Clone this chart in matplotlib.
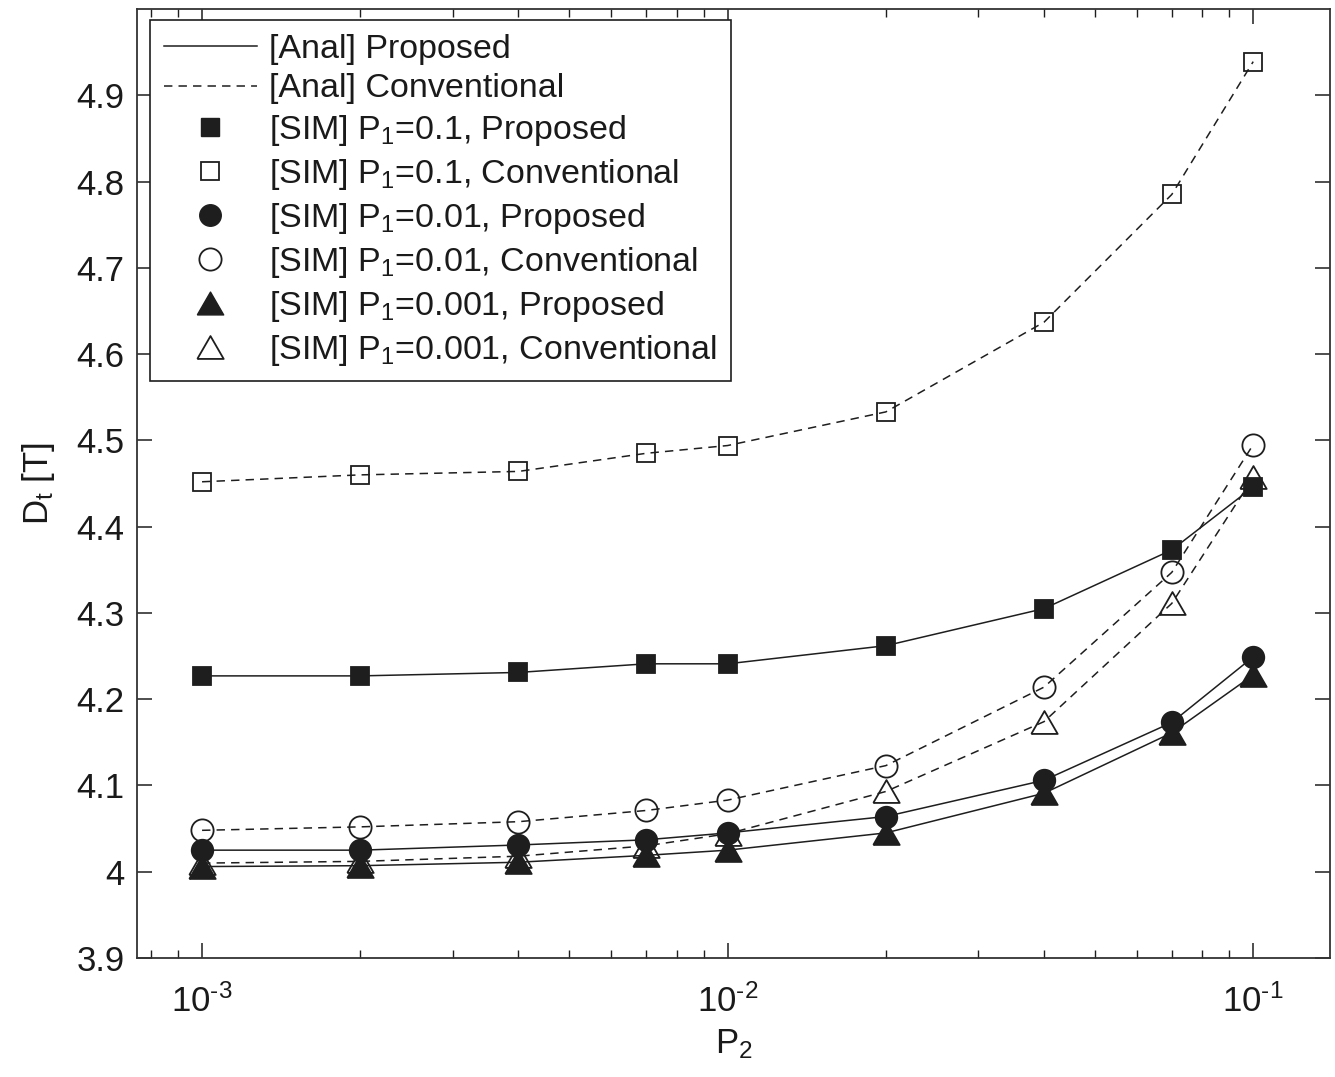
import numpy as np
import matplotlib
matplotlib.use("Agg")
import matplotlib.pyplot as plt
from matplotlib.lines import Line2D
from matplotlib.ticker import LogLocator, FixedLocator, FuncFormatter

plt.rcParams['font.family'] = ['Liberation Sans', 'DejaVu Sans']
plt.rcParams['mathtext.fontset'] = 'custom'
plt.rcParams['mathtext.rm'] = 'Liberation Sans'
plt.rcParams['mathtext.it'] = 'Liberation Sans'
plt.rcParams['mathtext.default'] = 'regular'

# ---- data ----
p2 = [0.001, 0.002, 0.004, 0.007, 0.01, 0.02, 0.04, 0.07, 0.1]

conv_p1_01 = [4.452, 4.460, 4.464, 4.485, 4.494, 4.533, 4.637, 4.785, 4.939]
prop_p1_01 = [4.227, 4.227, 4.231, 4.241, 4.241, 4.262, 4.305, 4.373, 4.446]
conv_p1_001 = [4.048, 4.052, 4.058, 4.071, 4.083, 4.123, 4.214, 4.347, 4.495]
prop_p1_001 = [4.025, 4.025, 4.031, 4.037, 4.045, 4.064, 4.106, 4.173, 4.249]
conv_p1_0001 = [4.010, 4.012, 4.018, 4.030, 4.044, 4.093, 4.174, 4.311, 4.457]
prop_p1_0001 = [4.006, 4.007, 4.011, 4.019, 4.025, 4.045, 4.091, 4.161, 4.228]

yticks = [3.9, 4.0, 4.1, 4.2, 4.3, 4.4, 4.5, 4.6, 4.7, 4.8, 4.9]
ytick_labels = ['3.9', '4', '4.1', '4.2', '4.3', '4.4', '4.5', '4.6', '4.7', '4.8', '4.9']

legend_labels = [
    '[Anal] Proposed',
    '[Anal] Conventional',
    '[SIM] P$_1$=0.1, Proposed',
    '[SIM] P$_1$=0.1, Conventional',
    '[SIM] P$_1$=0.01, Proposed',
    '[SIM] P$_1$=0.01, Conventional',
    '[SIM] P$_1$=0.001, Proposed',
    '[SIM] P$_1$=0.001, Conventional',
]

# ---- style ----
C = '#1e1e1e'
LW = 1.1
DASH = (0, (5.5, 4.0))
tri = [(-1.0, -0.866), (1.0, -0.866), (0.0, 0.866), (-1.0, -0.866)]

W, H = 1335, 1077
fig = plt.figure(figsize=(W / 100, H / 100), dpi=100)
L, R, T, B = 137, 1330, 9, 958
ax = fig.add_axes([L / W, (H - B) / H, (R - L) / W, (B - T) / H])

series = [
    (prop_p1_01, '-', dict(marker='s', ms=13, mfc=C)),
    (conv_p1_01, DASH, dict(marker='s', ms=13, mfc='none')),
    (prop_p1_001, '-', dict(marker='o', ms=15.5, mfc=C)),
    (conv_p1_001, DASH, dict(marker='o', ms=16, mfc='none')),
    (prop_p1_0001, '-', dict(marker=tri, ms=19, mfc=C)),
    (conv_p1_0001, DASH, dict(marker=tri, ms=19, mfc='none')),
]

for vals, ls, mk in series:
    ax.plot(p2, vals, linestyle=ls, color=C, lw=LW, zorder=2)

order = [1, 3, 5, 0, 2, 4]
for i in order:
    vals, ls, mk = series[i]
    ax.plot(p2, vals, linestyle='none', marker=mk['marker'], ms=mk['ms'],
            mfc=mk['mfc'], mec=C, mew=1.3, zorder=3)

ax.set_xscale('log')
ax.set_xlim(7.52e-4, 0.140)
ax.set_ylim(3.9, 5.0)
ax.yaxis.set_major_locator(FixedLocator(yticks))
ax.set_yticklabels(ytick_labels)
ax.xaxis.set_major_locator(LogLocator(base=10, numticks=10))
ax.xaxis.set_minor_locator(LogLocator(base=10, subs=np.arange(2, 10), numticks=10))


def fmt(v, pos):
    e = int(round(np.log10(v)))
    if e < 0:
        return r'$10^{\text{-%d}}$' % (-e)
    return r'$10^{%d}$' % e


ax.xaxis.set_major_formatter(FuncFormatter(fmt))

ax.tick_params(axis='both', which='both', direction='in', top=True, right=True,
               colors=C, labelcolor='#1a1a1a', labelsize=25)
ax.tick_params(axis='both', which='major', length=11, width=1.1)
ax.tick_params(axis='x', which='minor', length=6, width=1.0)
ax.tick_params(axis='y', which='major', pad=9)
ax.tick_params(axis='x', which='major', pad=19)
for s in ax.spines.values():
    s.set_color('#333333')
    s.set_linewidth(1.3)

ax.set_xlabel('P$_2$', fontsize=25, color='#1a1a1a', labelpad=6)
ax.set_ylabel('D$_t$ [T]', fontsize=25, color='#1a1a1a', labelpad=14)

handles = [
    Line2D([], [], linestyle='-', color=C, lw=LW),
    Line2D([], [], linestyle=DASH, color=C, lw=LW),
    Line2D([], [], linestyle='none', marker='s', ms=13, mfc=C, mec=C),
    Line2D([], [], linestyle='none', marker='s', ms=13, mfc='none', mec=C, mew=1.3),
    Line2D([], [], linestyle='none', marker='o', ms=15.5, mfc=C, mec=C),
    Line2D([], [], linestyle='none', marker='o', ms=16, mfc='none', mec=C, mew=1.3),
    Line2D([], [], linestyle='none', marker=tri, ms=19, mfc=C, mec=C),
    Line2D([], [], linestyle='none', marker=tri, ms=19, mfc='none', mec=C, mew=1.3),
]
leg = ax.legend(handles, legend_labels, loc='upper left',
                bbox_to_anchor=((150 - L) / (R - L), 1 - (20 - T) / (B - T)),
                borderaxespad=0, fontsize=24.5, frameon=True, fancybox=False,
                edgecolor=C, framealpha=1, handlelength=2.75, handletextpad=0.35,
                labelspacing=0.26, borderpad=0.4)
leg.get_frame().set_linewidth(1.2)
for t in leg.get_texts():
    t.set_color('#1a1a1a')

fig.savefig('out.png', dpi=100)
